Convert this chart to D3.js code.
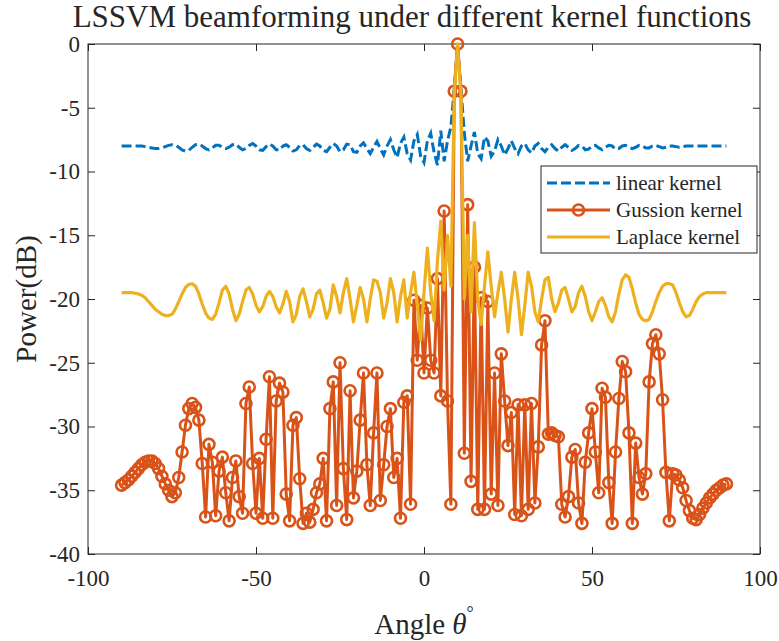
<!DOCTYPE html>
<html>
<head>
<meta charset="utf-8">
<script src="https://cdn.jsdelivr.net/npm/d3@7"></script>
<style>
  body { margin: 0; background: #fff; }
  svg text { font-family: "Liberation Serif", "Times New Roman", serif; fill: #262626; }
</style>
</head>
<body>
<div class="canvas"></div>
<script>
// angle grid, 1 degree step
const angles = d3.range(-90, 91);

// linear kernel (dB), -90 .. 90
const linearKernel = [
  -8.0, -8.0, -8.0, -8.0, -8.0, -8.0, -8.0,
  -8.05, -8.1, -8.15, -8.2,
  -8.2, -8.15, -8.05, -7.95, -7.9, -7.95, -8.1, -8.3, -8.4, -8.35,
  -8.1, -7.9, -7.85, -8.0, -8.2, -8.3, -8.15, -7.95, -7.95, -8.1,
  -8.2, -8.1, -7.9, -7.85, -8.1, -8.3, -8.2, -7.95, -7.8, -8.0,
  -8.3, -8.35, -8.05, -7.85, -8.0, -8.3, -8.3, -8.0, -7.9, -8.1,
  -8.4, -8.3, -7.95, -7.9, -8.2, -8.35, -8.1, -7.85, -8.0, -8.35,
  -8.45, -8.1, -7.8, -8.0, -8.45, -8.3, -7.85, -7.9, -8.45, -8.5,
  -8.0, -7.75, -8.2, -8.6, -8.1, -7.65, -8.2, -8.7, -8.0, -7.5,
  -8.3, -8.9, -7.8, -7.3, -8.6, -9.1, -7.6, -7.1, -8.8, -9.3,
  -7.6, -7.0, -8.5, -9.5, -6.8, -9.2, -7.6, -6.5, -3.5, 0,
  -3.5, -7.0, -9.2, -8.0, -6.9, -8.6, -9.0, -7.3, -7.6, -8.8,
  -8.4, -7.5, -8.0, -8.7, -8.2, -7.6, -8.2, -8.6, -8.0, -7.8,
  -8.3, -8.55, -8.0, -7.8, -8.2, -8.45, -8.1, -7.9, -8.2, -8.4,
  -8.1, -7.9, -8.1, -8.35, -8.2, -7.95, -8.0, -8.3, -8.25, -8.0,
  -7.95, -8.15, -8.3, -8.1, -7.95, -8.0, -8.25, -8.2, -8.0, -7.95,
  -8.1, -8.2, -8.1, -7.95, -8.0, -8.15, -8.15, -8.0, -7.95, -8.05,
  -8.15, -8.1, -8.0, -8.0, -8.05, -8.1, -8.05, -8.0, -8.0, -8.0,
  -8.0, -8.0, -8.0, -8.0, -8.0, -8.0, -8.0, -8.0, -8.0, -8.0
];

// gaussian kernel (dB), -90 .. 90
const gaussKernel = [
  -34.6, -34.4, -34.2, -33.9, -33.6, -33.3, -33.0, -32.8, -32.7, -32.7,
  -32.9, -33.3, -33.9, -34.5, -35.0, -35.5, -35.2, -34.0, -32.0, -29.9,
  -28.6, -28.2, -28.5, -29.5, -32.9, -37.1, -31.4, -32.8, -37.0, -33.5,
  -32.4, -35.2, -37.4, -34.0, -32.7, -35.5, -36.8, -28.2, -26.9, -32.9,
  -36.8, -32.5, -37.2, -31.0, -26.1, -37.2, -28.0, -26.6, -27.3, -35.3,
  -37.4, -29.9, -29.3, -34.1, -37.6, -36.8, -37.5, -36.5, -35.2, -34.5,
  -32.5, -37.4, -28.6, -26.5, -36.2, -25.0, -33.3, -37.3, -27.2, -35.6,
  -33.5, -29.5, -25.8, -33.0, -36.2, -30.5, -25.8, -35.8, -33.0, -30.0,
  -28.6, -34.0, -32.5, -37.2, -28.1, -27.6, -36.1, -20.1, -24.8, -20.5,
  -25.8, -20.7, -24.8, -25.8, -18.4, -27.6, -13.1, -28.0, -36.1, -3.7,
  0, -3.7, -32.1, -12.6, -34.3, -17.5, -36.5, -19.9, -36.5, -20.2,
  -35.3, -25.8, -36.2, -24.3, -28.0, -31.5, -28.9, -36.9, -28.3, -37.0,
  -28.3, -36.5, -28.2, -36.0, -31.6, -23.6, -21.7, -30.6, -30.5, -30.7,
  -30.8, -36.1, -37.1, -35.5, -32.4, -31.8, -36.0, -37.6, -32.8, -30.5,
  -28.6, -32.0, -35.2, -27.0, -27.7, -34.4, -37.6, -32.0, -27.8, -24.9,
  -25.7, -30.5, -37.6, -31.3, -34.0, -35.3, -33.7, -26.5, -23.5, -22.8,
  -24.3, -27.9, -33.6, -37.4, -33.7, -33.8, -34.2, -34.8, -35.8, -36.6,
  -37.2, -37.3, -36.9, -36.4, -36.0, -35.6, -35.3, -35.0, -34.8, -34.6, -34.5
];

// laplace kernel (dB), -90 .. 90
const laplaceKernel = [
  -19.5, -19.5, -19.5, -19.5, -19.55, -19.6, -19.7, -19.9, -20.2, -20.5,
  -20.8, -21.0, -21.2, -21.3, -21.3, -21.2, -20.8, -20.2, -19.6, -19.1,
  -18.85, -18.8, -19.0, -19.6, -20.4, -21.1, -21.5, -21.6, -21.2, -20.3,
  -19.3, -19.0, -19.6, -20.8, -21.7, -21.2, -20.2, -19.3, -19.1, -19.6,
  -20.5, -21.0, -20.6, -19.8, -19.4, -19.8, -20.6, -21.1, -20.4, -19.4,
  -20.2, -21.8, -21.2, -19.8, -19.2, -20.2, -21.4, -20.8, -19.6, -19.3,
  -20.3, -21.5, -20.8, -18.9, -19.8, -21.1, -19.5, -18.4, -20.0, -21.8,
  -20.5, -19.1, -20.0, -21.8, -20.0, -18.5, -18.6, -19.5, -21.5, -20.3,
  -18.4, -19.5, -21.8, -19.8, -18.5, -21.5, -19.5, -17.9, -20.5, -23.2,
  -19.5, -16.0, -19.5, -21.7, -17.0, -13.9, -19.3, -15.0, -19.0, -4.0,
  0, -4.0, -20.0, -15.0, -21.0, -14.0, -20.0, -22.0, -19.0, -16.3,
  -19.0, -21.4, -19.5, -17.9, -20.0, -22.6, -20.0, -17.9, -20.0, -22.8,
  -20.5, -17.9, -19.0, -21.0, -21.8, -20.0, -18.5, -18.3, -20.0, -21.0,
  -20.3, -19.3, -19.1, -20.0, -21.0, -20.6, -19.5, -19.0, -19.8, -21.0,
  -21.7, -21.0, -20.2, -19.9, -20.5, -21.4, -21.8, -21.0, -19.6, -18.5,
  -18.1, -18.3, -19.2, -20.3, -21.2, -21.6, -21.7, -21.6, -21.0, -20.2,
  -19.5, -19.0, -18.8, -18.8, -18.9, -19.5, -20.3, -21.0, -21.4, -21.3,
  -20.8, -20.2, -19.8, -19.6, -19.5, -19.5, -19.5, -19.5, -19.5, -19.5, -19.5
];

const xTicks = [-100, -50, 0, 50, 100];
const yTicks = [0, -5, -10, -15, -20, -25, -30, -35, -40];
const seriesNames = ["linear kernel", "Gussion kernel", "Laplace kernel"];
const colors = ["#0072BD", "#D95319", "#EDB120"];

const serif = '"Liberation Serif", "Times New Roman", serif';
const dims = { width: 779, height: 641 };
const box = { left: 88, right: 760, top: 44, bottom: 554 };

const svg = d3
  .select(".canvas")
  .append("svg")
  .attr("width", dims.width)
  .attr("height", dims.height);

const x = d3.scaleLinear().domain([-100, 100]).range([box.left, box.right]);
const y = d3.scaleLinear().domain([-40, 0]).range([box.bottom, box.top]);

const tickLen = 7;
const fmt = (d) => String(d);

// axes (ticks pointing inward, MATLAB style box)
const xAxis = svg
  .append("g")
  .attr("transform", `translate(0,${box.bottom})`)
  .call(d3.axisBottom(x).tickValues(xTicks).tickSize(-tickLen).tickPadding(11).tickFormat(fmt));
svg
  .append("g")
  .attr("transform", `translate(0,${box.top})`)
  .call(d3.axisTop(x).tickValues(xTicks).tickSize(-tickLen).tickFormat(""));
svg
  .append("g")
  .attr("transform", `translate(${box.left},0)`)
  .call(d3.axisLeft(y).tickValues(yTicks).tickSize(-tickLen).tickPadding(8).tickFormat(fmt));
svg
  .append("g")
  .attr("transform", `translate(${box.right},0)`)
  .call(d3.axisRight(y).tickValues(yTicks).tickSize(-tickLen).tickFormat(""));

svg.selectAll(".domain").remove();
svg.selectAll(".tick line").attr("stroke", "#262626");
svg
  .selectAll(".tick text")
  .style("font-family", serif)
  .style("font-size", "23px")
  .style("fill", "#262626");
xAxis.selectAll(".tick text").attr("dy", "0.9em");

// frame
svg
  .append("rect")
  .attr("x", box.left)
  .attr("y", box.top)
  .attr("width", box.right - box.left)
  .attr("height", box.bottom - box.top)
  .attr("fill", "none")
  .attr("stroke", "#262626")
  .attr("stroke-width", 1);

const line = d3
  .line()
  .x((d) => x(d[0]))
  .y((d) => y(d[1]));

const graph = svg.append("g");

// linear kernel
graph
  .append("path")
  .attr("d", line(angles.map((a, i) => [a, linearKernel[i]])))
  .attr("fill", "none")
  .attr("stroke", colors[0])
  .attr("stroke-width", 3)
  .attr("stroke-dasharray", "10,4");

// gaussian kernel with circle markers
const gaussPts = angles.map((a, i) => [a, gaussKernel[i]]);
graph
  .append("path")
  .attr("d", line(gaussPts))
  .attr("fill", "none")
  .attr("stroke", colors[1])
  .attr("stroke-width", 3)
  .attr("stroke-linejoin", "round");
graph
  .append("g")
  .selectAll("circle")
  .data(gaussPts)
  .enter()
  .append("circle")
  .attr("cx", (d) => x(d[0]))
  .attr("cy", (d) => y(d[1]))
  .attr("r", 5.5)
  .attr("fill", "none")
  .attr("stroke", colors[1])
  .attr("stroke-width", 2.6);

// laplace kernel
graph
  .append("path")
  .attr("d", line(angles.map((a, i) => [a, laplaceKernel[i]])))
  .attr("fill", "none")
  .attr("stroke", colors[2])
  .attr("stroke-width", 3.2)
  .attr("stroke-linejoin", "round");

// legend
const legend = svg.append("g").attr("transform", "translate(541,166)");
legend
  .append("rect")
  .attr("width", 216)
  .attr("height", 87)
  .attr("fill", "#fff")
  .attr("stroke", "#262626")
  .attr("stroke-width", 1);

seriesNames.forEach((name, i) => {
  const ly = 17 + i * 27;
  const row = legend.append("g").attr("transform", `translate(0,${ly})`);
  const l = row
    .append("line")
    .attr("x1", 6)
    .attr("x2", 69)
    .attr("stroke", colors[i])
    .attr("stroke-width", 3);
  if (i === 0) l.attr("stroke-dasharray", "10,4");
  if (i === 1) {
    row
      .append("circle")
      .attr("cx", 37.5)
      .attr("r", 5.5)
      .attr("fill", "none")
      .attr("stroke", colors[1])
      .attr("stroke-width", 2.6);
  }
  row
    .append("text")
    .attr("x", 75)
    .attr("dy", "0.33em")
    .attr("font-size", 21)
    .text(name);
});

// title and labels
svg
  .append("text")
  .attr("x", 412)
  .attr("y", 27)
  .attr("text-anchor", "middle")
  .attr("font-size", 31)
  .text("LSSVM beamforming under different kernel functions");

const xl = svg
  .append("text")
  .attr("x", x(0))
  .attr("y", 634)
  .attr("text-anchor", "middle")
  .attr("font-size", 29);
xl.append("tspan").text("Angle ");
xl.append("tspan").attr("font-style", "italic").text("θ");
xl.append("tspan").attr("font-size", 18).attr("dy", -15).text("°");

svg
  .append("text")
  .attr("transform", `translate(36,${y(-20)}) rotate(-90)`)
  .attr("text-anchor", "middle")
  .attr("font-size", 29)
  .text("Power(dB)");
</script>
</body>
</html>
